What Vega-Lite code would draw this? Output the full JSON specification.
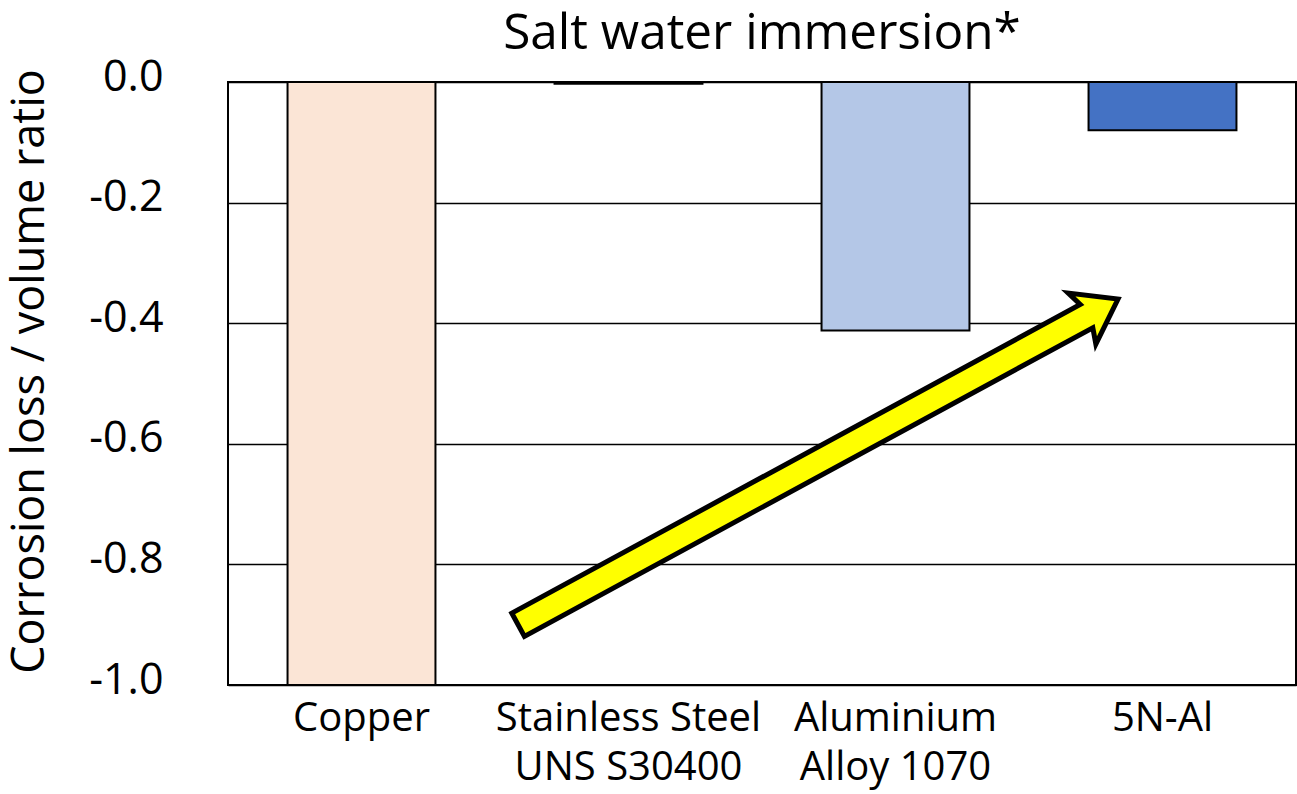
{
  "$schema": "https://vega.github.io/schema/vega-lite/v6.json",
  "width": 1068,
  "height": 603,
  "autosize": {"type": "none"},
  "padding": {"left": 228, "top": 82, "right": 1, "bottom": 109},
  "background": "white",
  "config": {"font": "Open Sans", "view": {"stroke": "#000", "strokeWidth": 2}},
  "title": {"text": "Salt water immersion*", "fontSize": 49.5, "font": "Open Sans", "fontWeight": "normal", "color": "#000", "anchor": "middle", "frame": "group", "baseline": "alphabetic", "offset": 0, "dy": 42},
  "resolve": {"scale": {"x": "independent"}},
  "layer": [
    {
      "data": {"values": [
        {"material": "Copper", "value": -1.0},
        {"material": "Stainless Steel|UNS S30400", "value": -0.003},
        {"material": "Aluminium|Alloy 1070", "value": -0.412},
        {"material": "5N-Al", "value": -0.08}
      ]},
      "mark": {"type": "bar", "stroke": "#000", "strokeWidth": 2},
      "encoding": {
        "x": {"field": "material", "type": "nominal", "sort": null,
          "scale": {"paddingInner": 0.446, "paddingOuter": 0.223},
          "axis": {"title": null, "domain": false, "ticks": false, "labelExpr": "split(datum.label,'|')", "labelFontSize": 40, "labelColor": "#000", "labelPadding": 13, "labelLineHeight": 49, "labelBaseline": "top", "labelAngle": 0, "labelLimit": 500}},
        "y": {"field": "value", "type": "quantitative",
          "scale": {"domain": [-1, 0], "nice": false, "zero": false},
          "axis": {"values": [-1, -0.8, -0.6, -0.4, -0.2, 0], "labelExpr": "replace(format(datum.value,'.1f'),'\u2212','-')", "grid": true, "gridColor": "#000", "gridWidth": 1.3, "gridOpacity": 1, "domain": false, "ticks": false, "labelFontSize": 43, "labelColor": "#000", "labelPadding": 65, "labelBaseline": "alphabetic", "labelOffset": 8, "labelOverlap": false, "title": "Corrosion loss / volume ratio", "titleFontSize": 45, "titleFontWeight": "normal", "titleColor": "#000", "titleX": -185, "titleY": 289, "titleBaseline": "alphabetic", "titleAngle": -90, "titleAlign": "center"}},
        "color": {"field": "material", "type": "nominal", "legend": null,
          "scale": {"domain": ["Copper", "Stainless Steel|UNS S30400", "Aluminium|Alloy 1070", "5N-Al"], "range": ["#FBE5D6", "#A5A5A5", "#B4C7E7", "#4472C4"]}}
      }
    },
    {
      "data": {"values": [{"pos": 2.21, "value": -0.63}]},
      "mark": {"type": "point", "shape": "M -1 -0.0387 L 0.895 -0.0387 L 0.88 -0.085 L 1 0 L 0.88 0.085 L 0.895 0.0387 L -1 0.0387 Z", "size": 465943, "angle": 331.5, "filled": true, "fill": "#FFFF00", "stroke": "#000", "strokeWidth": 5, "strokeJoin": "miter", "opacity": 1, "fillOpacity": 1, "strokeOpacity": 1},
      "encoding": {
        "x": {"field": "pos", "type": "quantitative", "scale": {"domain": [0, 4], "nice": false, "zero": false}, "axis": null},
        "y": {"field": "value", "type": "quantitative", "scale": {"domain": [-1, 0], "nice": false, "zero": false}}
      }
    }
  ]
}
